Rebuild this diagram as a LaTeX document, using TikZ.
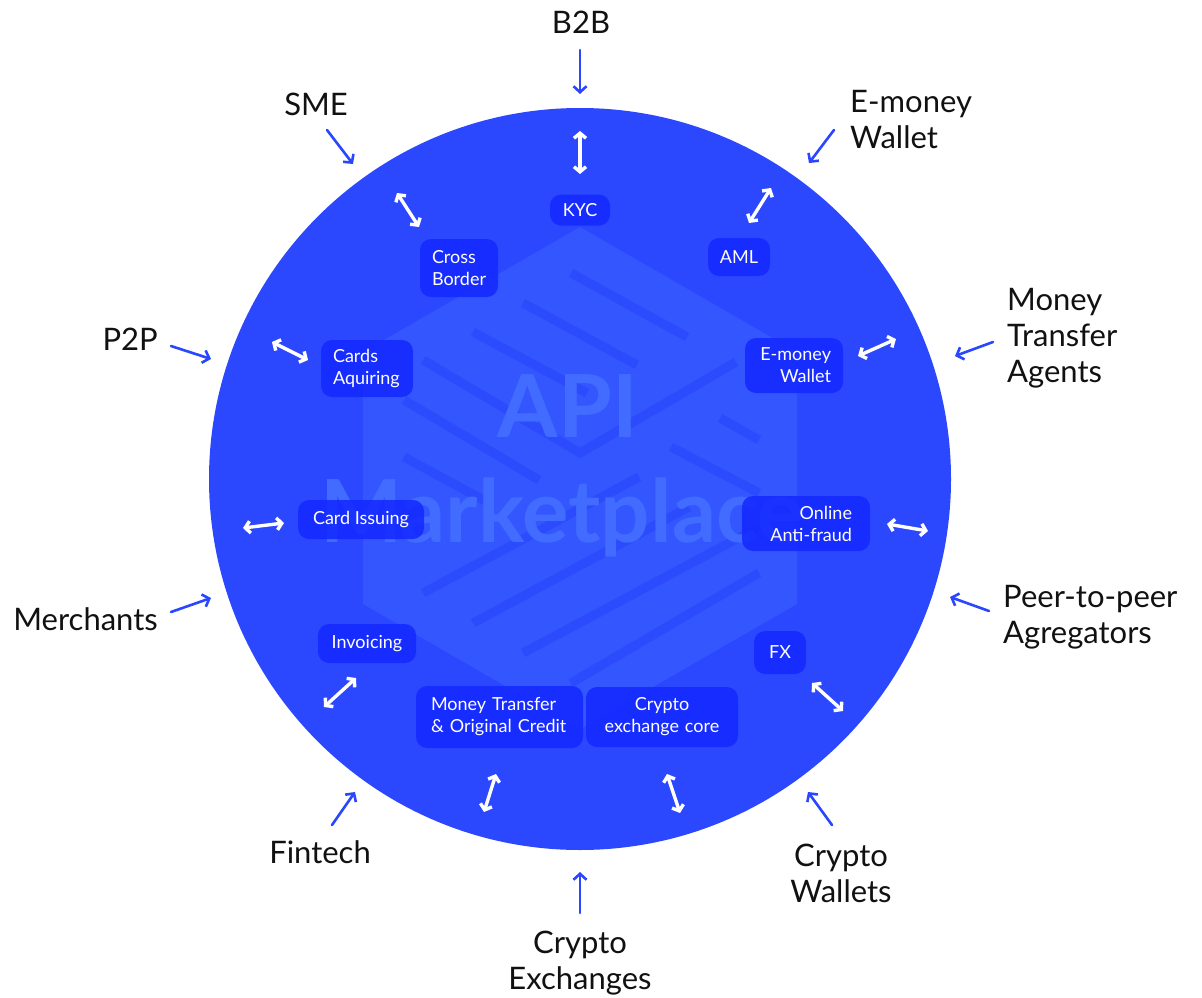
\documentclass[tikz,border=0pt]{standalone}
\usepackage{fontspec}
\setmainfont{Lato}
\usetikzlibrary{arrows.meta}

\definecolor{disc}{RGB}{43,72,255}
\definecolor{hexfill}{RGB}{51,86,255}
\definecolor{stripecol}{RGB}{44,75,253}
\definecolor{marktext}{RGB}{66,108,255}
\definecolor{boxblue}{RGB}{20,40,255}
\definecolor{arrowblue}{RGB}{42,70,255}
\definecolor{ink}{RGB}{17,17,17}

\begin{document}
\begin{tikzpicture}[x=1pt,y=-1pt,
  outer/.style={font=\fontsize{31}{36}\selectfont, text=ink, inner sep=0pt},
  svc/.style={fill=boxblue, fill opacity=0.85, text opacity=1, text=white,
              rounded corners=11pt, font=\fontsize{18}{22}\selectfont, inner sep=0pt},
  feed/.style={draw=arrowblue, line width=2.6pt, line cap=round,
               -{Straight Barb[length=6pt,width=13pt]}},
  link/.style={draw=white, line width=3.4pt, line cap=round,
               {Straight Barb[length=5pt,width=12pt]}-{Straight Barb[length=5pt,width=12pt]}},
  stripe/.style={draw=stripecol, line width=9pt},
]
\useasboundingbox (0,0) rectangle (1202,998);

% platform disc
\fill[disc] (580,479) circle[radius=371pt];

% hexagonal logo watermark
\fill[hexfill] (580,227) -- (797,352) -- (797,604) -- (580,729) -- (363,604) -- (363,352) -- cycle;
\draw[stripe] (571,273) -- (687,337);
\draw[stripe] (523,303) -- (637,365);
\draw[stripe] (473,332) -- (587,393);
\draw[stripe] (423,360) -- (580,453) -- (736,362);
\draw[stripe] (404,400) -- (539,480);
\draw[stripe] (720,418) -- (759,440);
\draw[stripe] (404,457) -- (489,503);
\draw[stripe] (671,447) -- (759,493);
\draw[stripe] (423,593) -- (639,477);
\draw[stripe] (473,623) -- (689,507);
\draw[stripe] (523,653) -- (759,527);
\draw[stripe] (571,683) -- (759,573);

\node[anchor=base, inner sep=0pt, text=marktext, font=\fontsize{87}{87}\selectfont\bfseries] (wmA) at (568,437) {API};
\node[anchor=base, inner sep=0pt, text=marktext, font=\fontsize{87}{87}\selectfont\bfseries] (wmB) at (562,542) {Marketplace};

% service modules
\node[svc, minimum width=60pt, minimum height=31pt] (kyc) at (580,210) {KYC};
\node[svc, minimum width=78pt, minimum height=58pt, text width=54pt, align=left] (cross) at (459,268) {Cross\\Border};
\node[svc, minimum width=62pt, minimum height=38pt] (aml) at (739,257) {AML};
\node[svc, minimum width=92pt, minimum height=57pt, text width=68pt, align=left] (acq) at (367,368.5) {Cards\\Aquiring};
\node[svc, minimum width=98pt, minimum height=55pt, text width=74pt, align=right] (ewal) at (794,365.5) {E-money\\Wallet};
\node[svc, minimum width=126pt, minimum height=39pt] (issue) at (361,519.5) {Card Issuing};
\node[svc, minimum width=128pt, minimum height=55pt, text width=92pt, align=right] (fraud) at (806,523.5) {Online\\Anti-fraud};
\node[svc, minimum width=98pt, minimum height=39pt] (inv) at (367,643.5) {Invoicing};
\node[svc, minimum width=52pt, minimum height=43pt] (fx) at (780,652.5) {FX};
\node[svc, minimum width=167pt, minimum height=62pt, text width=137pt, align=left] (mt) at (499.5,717) {Money Transfer\\\& Original Credit};
\node[svc, minimum width=152pt, minimum height=60pt, text width=130pt, align=center] (core) at (662,717) {Crypto\\exchange core};

% client groups
\node[outer, anchor=base] (b2b) at (581,34) {B2B};
\node[outer, anchor=base] (sme) at (316,115) {SME};
\node[outer, anchor=north west, align=left] (ewallet) at (850,90) {E-money\\Wallet};
\node[outer, anchor=north west, align=left] (mta) at (1007,288) {Money\\Transfer\\Agents};
\node[outer, anchor=base east] (p2p) at (158,350) {P2P};
\node[outer, anchor=base east] (merch) at (158,630) {Merchants};
\node[outer, anchor=north west, align=left] (peer) at (1003,585) {Peer-to-peer\\Agregators};
\node[outer, anchor=north, align=center] (cwal) at (841,844) {Crypto\\Wallets};
\node[outer, anchor=north, align=center] (cex) at (580,931) {Crypto\\Exchanges};
\node[outer, anchor=base] (fin) at (320,863) {Fintech};

% incoming arrows from client groups
\coordinate (b2b-s) at (580,50);   \coordinate (b2b-t) at (580,94);
\coordinate (sme-s) at (327,130);  \coordinate (sme-t) at (353,164);
\coordinate (ew-s) at (834,130);   \coordinate (ew-t) at (809,163);
\coordinate (mta-s) at (993,342);  \coordinate (mta-t) at (955,356);
\coordinate (p2p-s) at (171,346);  \coordinate (p2p-t) at (211,359);
\coordinate (mer-s) at (171,612);  \coordinate (mer-t) at (211,598);
\coordinate (peer-s) at (989,611); \coordinate (peer-t) at (950,597);
\coordinate (cw-s) at (832,825);   \coordinate (cw-t) at (808,792);
\coordinate (cex-s) at (580,913);  \coordinate (cex-t) at (580,872);
\coordinate (fin-s) at (332,825);  \coordinate (fin-t) at (355,792);
\draw[feed] (b2b-s) -- (b2b-t);
\draw[feed] (sme-s) -- (sme-t);
\draw[feed] (ew-s) -- (ew-t);
\draw[feed] (mta-s) -- (mta-t);
\draw[feed] (p2p-s) -- (p2p-t);
\draw[feed] (mer-s) -- (mer-t);
\draw[feed] (peer-s) -- (peer-t);
\draw[feed] (cw-s) -- (cw-t);
\draw[feed] (cex-s) -- (cex-t);
\draw[feed] (fin-s) -- (fin-t);

% two-way links of the modules
\coordinate (l1a) at (580,131); \coordinate (l1b) at (580,174);
\coordinate (l2a) at (397,193); \coordinate (l2b) at (419,227);
\coordinate (l3a) at (771,188); \coordinate (l3b) at (749,223);
\coordinate (l4a) at (272,342); \coordinate (l4b) at (308,360);
\coordinate (l5a) at (858,356); \coordinate (l5b) at (896,339);
\coordinate (l6a) at (243,528); \coordinate (l6b) at (284,523);
\coordinate (l7a) at (887,524); \coordinate (l7b) at (928,531);
\coordinate (l8a) at (356,678); \coordinate (l8b) at (324,707);
\coordinate (l9a) at (812,683); \coordinate (l9b) at (843,711);
\coordinate (l10a) at (496,774); \coordinate (l10b) at (484,812);
\coordinate (l11a) at (667,774); \coordinate (l11b) at (680,813);
\foreach \i in {1,...,11} \draw[link] (l\i a) -- (l\i b);

\end{tikzpicture}
\end{document}
